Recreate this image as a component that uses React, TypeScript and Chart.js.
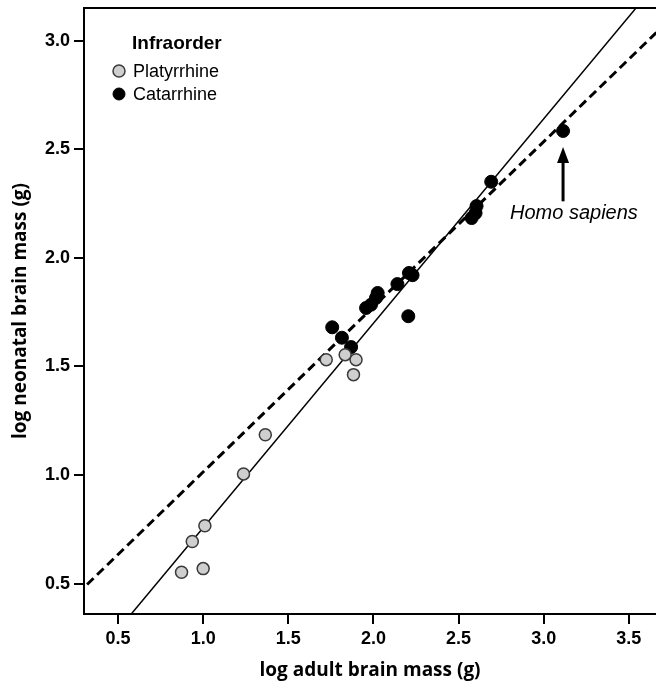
import React, { useEffect, useRef } from "react";
import { Chart, registerables } from "chart.js";

Chart.register(...registerables);

// ---- data ----
const platyrrhineX = [0.873, 0.936, 1.0, 1.01, 1.237, 1.365, 1.723, 1.834, 1.898, 1.883];
const platyrrhineY = [0.552, 0.694, 0.569, 0.766, 1.005, 1.185, 1.531, 1.554, 1.531, 1.462];

const catarrhineX = [1.758, 1.815, 1.869, 1.957, 1.986, 2.015, 2.025, 2.141, 2.209, 2.23, 2.205, 2.577, 2.6, 2.606, 2.692, 3.114];
const catarrhineY = [1.68, 1.632, 1.589, 1.769, 1.784, 1.815, 1.838, 1.879, 1.93, 1.92, 1.731, 2.183, 2.206, 2.238, 2.35, 2.584];

// regression line end points
const solidFitX = [0.5, 3.7];
const solidFitY = [0.287, 3.298];
const dashedFitX = [0.2, 3.8];
const dashedFitY = [0.406, 3.142];

const xTicks = [0.5, 1.0, 1.5, 2.0, 2.5, 3.0, 3.5];
const yTicks = [0.5, 1.0, 1.5, 2.0, 2.5, 3.0];
const xRange = [0.3, 3.66];
const yRange = [0.36, 3.15];

const seriesLabels = ["Platyrrhine", "Catarrhine"];
const legendTitle = "Infraorder";
const xTitle = "log adult brain mass (g)";
const yTitle = "log neonatal brain mass (g)";

const annotationLabel = "Homo sapiens";
const annotationArrowX = 3.114;
const annotationArrowY = [2.26, 2.51];
const annotationTextPos = [3.178, 2.205];

const toPoints = (xs: number[], ys: number[]) => xs.map((x, i) => ({ x, y: ys[i] }));

const TICK_FONT = { family: "Arial, 'Liberation Sans', sans-serif", size: 18, weight: "bold" as const };
const TITLE_FONT = { family: "'Open Sans', Arial, sans-serif", size: 19, weight: "bold" as const };

const framePlugin = {
  id: "frameAndNotes",
  afterDatasetsDraw(chart: any) {
    const { ctx, chartArea, scales } = chart;
    const xs = scales.x;
    const ys = scales.y;
    ctx.save();
    // top frame line
    ctx.strokeStyle = "#000";
    ctx.lineWidth = 2;
    ctx.beginPath();
    ctx.moveTo(chartArea.left - 1, chartArea.top);
    ctx.lineTo(chartArea.right, chartArea.top);
    ctx.stroke();

    // annotation arrow
    const ax = xs.getPixelForValue(annotationArrowX);
    const yBase = ys.getPixelForValue(annotationArrowY[0]);
    const yTip = ys.getPixelForValue(annotationArrowY[1]);
    ctx.lineWidth = 3;
    ctx.beginPath();
    ctx.moveTo(ax, yBase);
    ctx.lineTo(ax, yTip + 12);
    ctx.stroke();
    ctx.fillStyle = "#000";
    ctx.beginPath();
    ctx.moveTo(ax, yTip);
    ctx.lineTo(ax - 6, yTip + 16);
    ctx.lineTo(ax + 6, yTip + 16);
    ctx.closePath();
    ctx.fill();

    ctx.font = "italic 20px Arial, 'Liberation Sans', sans-serif";
    ctx.textAlign = "center";
    ctx.textBaseline = "middle";
    ctx.fillText(
      annotationLabel,
      xs.getPixelForValue(annotationTextPos[0]),
      ys.getPixelForValue(annotationTextPos[1])
    );

    // legend
    const lx = chartArea.left + 48;
    ctx.textAlign = "left";
    ctx.font = "bold 19px Arial, 'Liberation Sans', sans-serif";
    ctx.fillText(legendTitle, lx, chartArea.top + 36);
    const dsets = chart.data.datasets;
    [0, 1].forEach((i) => {
      const ds = dsets[i];
      const cy = chartArea.top + 63 + i * 23;
      ctx.beginPath();
      ctx.arc(lx - 13, cy, 6, 0, Math.PI * 2);
      ctx.fillStyle = ds.backgroundColor;
      ctx.fill();
      ctx.lineWidth = ds.borderWidth;
      ctx.strokeStyle = ds.borderColor;
      ctx.stroke();
      ctx.fillStyle = "#000";
      ctx.font = "18px Arial, 'Liberation Sans', sans-serif";
      ctx.fillText(ds.label, lx + 1, cy + 1);
    });
    ctx.restore();
  },
};

export default function App() {
  const ref = useRef<HTMLCanvasElement | null>(null);

  useEffect(() => {
    document.body.style.margin = "0";
    if (!ref.current) return;
    const chart = new Chart(ref.current, {
      type: "scatter",
      data: {
        datasets: [
          {
            label: seriesLabels[0],
            data: toPoints(platyrrhineX, platyrrhineY),
            backgroundColor: "#cfcfcf",
            borderColor: "#3a3a3a",
            borderWidth: 1.5,
            pointRadius: 6,
          },
          {
            label: seriesLabels[1],
            data: toPoints(catarrhineX, catarrhineY),
            backgroundColor: "#000000",
            borderColor: "#000000",
            borderWidth: 1,
            pointRadius: 6.5,
          },
          {
            label: "fit solid",
            data: toPoints(solidFitX, solidFitY),
            showLine: true,
            borderColor: "#000",
            borderWidth: 1.5,
            pointRadius: 0,
          },
          {
            label: "fit dashed",
            data: toPoints(dashedFitX, dashedFitY),
            showLine: true,
            borderColor: "#000",
            borderWidth: 3,
            borderDash: [9, 5],
            pointRadius: 0,
          },
        ],
      },
      options: {
        responsive: false,
        animation: false,
        devicePixelRatio: 1,
        layout: { autoPadding: false, padding: { top: 8, right: 0, left: 0, bottom: 0 } },
        plugins: { legend: { display: false }, tooltip: { enabled: false } },
        scales: {
          x: {
            type: "linear",
            min: xRange[0],
            max: xRange[1],
            afterBuildTicks: (s: any) => {
              s.ticks = xTicks.map((v) => ({ value: v }));
            },
            afterFit: (s: any) => {
              s.height = 70;
              s.paddingLeft = 0;
              s.paddingRight = 0;
            },
            border: { display: true, color: "#000", width: 2 },
            grid: { drawOnChartArea: false, drawTicks: true, tickLength: 10, color: "#000", lineWidth: 2 },
            ticks: {
              color: "#000",
              font: TICK_FONT,
              padding: 4,
              maxRotation: 0,
              autoSkip: false,
              callback: (v: any) => Number(v).toFixed(1),
            },
            title: {
              display: true,
              text: xTitle,
              color: "#000",
              font: TITLE_FONT,
              padding: { top: 0, bottom: 2 },
            },
          },
          y: {
            type: "linear",
            min: yRange[0],
            max: yRange[1],
            afterBuildTicks: (s: any) => {
              s.ticks = yTicks.map((v) => ({ value: v }));
            },
            afterFit: (s: any) => {
              s.width = 84;
              s.paddingTop = 0;
              s.paddingBottom = 0;
            },
            border: { display: true, color: "#000", width: 2 },
            grid: { drawOnChartArea: false, drawTicks: true, tickLength: 10, color: "#000", lineWidth: 2 },
            ticks: {
              color: "#000",
              font: TICK_FONT,
              padding: 4,
              autoSkip: false,
              callback: (v: any) => Number(v).toFixed(1),
            },
            title: {
              display: true,
              text: yTitle,
              color: "#000",
              font: TITLE_FONT,
              padding: { top: 9, bottom: 0 },
            },
          },
        },
      },
      plugins: [framePlugin],
    } as any);
    return () => chart.destroy();
  }, []);

  return <canvas ref={ref} width={656} height={684} style={{ display: "block" }} />;
}
